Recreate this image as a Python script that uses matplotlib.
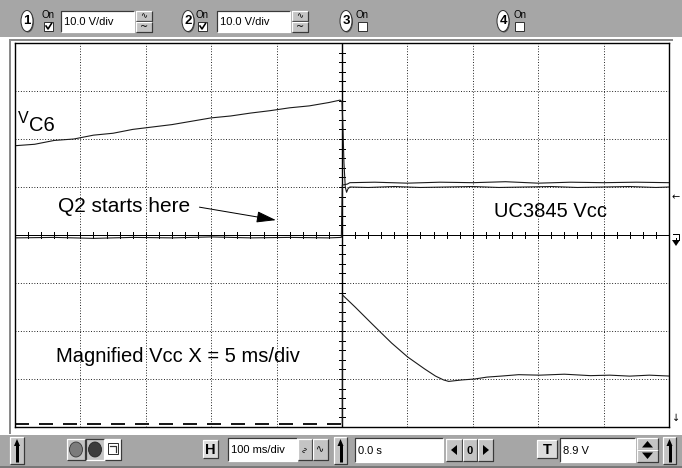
import numpy as np
import matplotlib
matplotlib.use("Agg")
import matplotlib.pyplot as plt
from matplotlib import font_manager
from matplotlib.patches import Rectangle, Ellipse, Polygon

# ---- trace data (time in ms, 100 ms/div; volts, 10 V/div, 0 V = screen centre)
vc6_t = [-500, -470, -440, -410, -380, -350, -320, -290, -260, -230, -200,
         -170, -140, -110, -80, -50, -20, -3, 0, 1.5, 3, 5, 7, 9, 12,
         40, 80, 120, 160, 200, 240, 280, 320, 360, 400, 440, 480, 500]
vc6_v = [18.6, 18.9, 19.7, 20.0, 20.8, 21.2, 22.0, 22.5, 23.0, 23.7, 24.4,
         24.8, 25.4, 25.9, 26.5, 26.9, 27.6, 28.1, 27.8, 22.0, 15.0, 10.0, 8.9, 9.6, 10.0,
         9.9, 10.1, 9.9, 10.0, 10.1, 9.9, 10.0, 10.1, 9.9, 10.0, 10.1, 9.9, 10.0]

vcc_t = [-500, -440, -380, -320, -260, -200, -140, -80, -20, -1,
         0.5, 8, 12, 50, 100, 150, 200, 250, 300, 350, 400, 450, 500]
vcc_v = [-0.6, -0.5, -0.7, -0.5, -0.6, -0.4, -0.6, -0.5, -0.6, -0.5,
         10.4, 10.6, 10.9, 11.0, 10.8, 11.0, 10.9, 11.1, 10.8, 11.0, 10.9, 11.0, 10.9]

# magnified Vcc (drawn on the same screen)
mag_pre_t = [-500, -1]
mag_pre_v = [-39.4, -39.4]
mag_t = [0.5, 0.8, 20, 43.6, 60, 75.8, 100.3, 126.3, 143.1, 155.4, 163.1,
         183, 202.9, 222, 242.7, 270, 302.5, 340, 380, 409.6, 440, 470, 503]
mag_v = [-39.4, -12.5, -15.0, -18.2, -20.4, -22.5, -25.4, -27.9, -29.4, -30.2, -30.5,
         -30.2, -30.0, -29.6, -29.4, -29.1, -29.2, -29.0, -29.3, -29.2, -29.4, -29.2, -29.4]

names = {f.name for f in font_manager.fontManager.ttflist}
ui_font = "Liberation Sans Narrow" if "Liberation Sans Narrow" in names else "Liberation Sans"
txt_font = "Liberation Sans"

GREY = "#a6a6a6"
BTN = "#c4c4c4"
PX = 0.72  # 1 px in points at 100 dpi

fig = plt.figure(figsize=(6.82, 4.68), dpi=100)
fig.patch.set_facecolor("white")

ui = fig.add_axes([0, 0, 1, 1], zorder=0)
ui.set_xlim(0, 682)
ui.set_ylim(468, 0)
ui.axis("off")


def bevel(x0, y0, x1, y1, face=BTN, raised=True):
    ui.add_patch(Rectangle((x0, y0), x1 - x0, y1 - y0, facecolor=face, edgecolor="none"))
    light, dark = ("white", "#3a3a3a") if raised else ("#3a3a3a", "white")
    ui.plot([x0, x0, x1], [y1, y0, y0], color=light, lw=1.2 * PX, solid_capstyle="butt")
    ui.plot([x0, x1, x1], [y1, y1, y0], color=dark, lw=1.2 * PX, solid_capstyle="butt")


def field(x0, y0, x1, y1, label):
    bevel(x0, y0, x1, y1, face="white", raised=False)
    ui.text(x0 + 3, (y0 + y1) / 2 + 0.5, label, family=ui_font, fontsize=8,
            ha="left", va="center", color="black")


def badge(cx, num):
    ui.add_patch(Ellipse((cx + 1, 22), 12, 21, facecolor="#555555", edgecolor="none"))
    ui.add_patch(Ellipse((cx, 21), 12, 21, facecolor="white", edgecolor="#333333", lw=1.0 * PX))
    ui.text(cx, 21.5, num, family=ui_font, fontsize=9.5, fontweight="bold",
            ha="center", va="center")


def checkbox(x, checked):
    ui.text(x + 4.5, 15.5, "On", family=ui_font, fontsize=7, ha="center", va="center")
    ui.add_patch(Rectangle((x, 22), 9, 9, facecolor="white", edgecolor="#333333", lw=1.0 * PX))
    if checked:
        ui.plot([x + 2, x + 4, x + 7.5], [26, 29, 23.5], color="black", lw=1.6 * PX)


def wave_buttons(x0, x1):
    bevel(x0, 11, x1, 21)
    bevel(x0, 22, x1, 32)
    ui.text((x0 + x1) / 2, 16, "\u223f", family=["DejaVu Sans"], fontsize=6, ha="center", va="center")
    ui.text((x0 + x1) / 2, 27, "~", family=["DejaVu Sans"], fontsize=7, ha="center", va="center")


def up_arrow(x, y0, y1):
    ui.plot([x, x], [y1, y0 + 6], color="black", lw=3.0 * PX, solid_capstyle="butt")
    ui.add_patch(Polygon([[x - 3, y0 + 7], [x + 3, y0 + 7], [x, y0]], closed=True,
                         facecolor="black", edgecolor="none"))


# ---- top toolbar
ui.add_patch(Rectangle((0, 0), 682, 37, facecolor=GREY, edgecolor="none"))
badge(27, "1")
checkbox(44, True)
field(61, 11, 134, 32, "10.0 V/div")
wave_buttons(136, 152)
badge(188, "2")
checkbox(198, True)
field(217, 11, 290, 32, "10.0 V/div")
wave_buttons(292, 308)
badge(346, "3")
checkbox(358, False)
badge(503, "4")
checkbox(515, False)

# ---- bottom toolbar
ui.add_patch(Rectangle((0, 435), 682, 33, facecolor=GREY, edgecolor="none"))
ui.plot([0, 682], [466.5, 466.5], color="#6a6a6a", lw=1.5 * PX)
bevel(10, 437, 24, 464)
up_arrow(17, 439, 462)
bevel(67, 439, 85, 460)
ui.add_patch(Ellipse((76, 449.5), 13, 15, facecolor="#7c7c7c", edgecolor="#333333", lw=0.8 * PX))
bevel(86, 439, 104, 460, raised=False)
ui.add_patch(Ellipse((95, 449.5), 13, 15, facecolor="#3c3c3c", edgecolor="#222222", lw=0.8 * PX))
bevel(105, 439, 121, 460, face="white")
ui.add_patch(Rectangle((108, 443), 10, 11, facecolor="white", edgecolor="#333333", lw=1.0 * PX))
ui.plot([110, 116, 116], [446, 446, 452], color="#333333", lw=1.2 * PX)

bevel(203, 440, 218, 458, face="#dcdcdc")
ui.text(210.5, 449.5, "H", family=ui_font, fontsize=10.5, fontweight="bold", ha="center", va="center")
field(228, 438, 297, 461, "100 ms/div")
bevel(298, 439, 312, 460)
ui.text(305, 449.5, "\u223f", family=["DejaVu Sans"], fontsize=6, ha="center", va="center", rotation=90)
bevel(313, 439, 328, 460)
ui.text(320.5, 449.5, "\u223f", family=["DejaVu Sans"], fontsize=7, ha="center", va="center")
bevel(334, 437, 347, 464)
up_arrow(340.5, 439, 462)
field(355, 438, 443, 462, "0.0 s")
bevel(446, 439, 462, 461)
ui.add_patch(Polygon([[451, 450], [457, 445], [457, 455]], closed=True, facecolor="black"))
bevel(463, 439, 477, 461)
ui.text(470, 450.5, "0", family=ui_font, fontsize=8, fontweight="bold", ha="center", va="center")
bevel(478, 439, 493, 461)
ui.add_patch(Polygon([[489, 450], [483, 445], [483, 455]], closed=True, facecolor="black"))

bevel(537, 440, 557, 458, face="#dcdcdc")
ui.text(547, 449.5, "T", family=ui_font, fontsize=10.5, fontweight="bold", ha="center", va="center")
field(560, 438, 635, 462, "8.9 V")
bevel(637, 438, 658, 450)
bevel(637, 450, 658, 462)
ui.add_patch(Polygon([[647.5, 441], [642, 447.5], [653, 447.5]], closed=True, facecolor="black"))
ui.add_patch(Polygon([[647.5, 459], [642, 452.5], [653, 452.5]], closed=True, facecolor="black"))
bevel(663, 437, 676, 464)
up_arrow(669.5, 439, 462)

# ---- screen frame and right-side markers
ui.plot([10, 10], [40, 433], color="#8a8a8a", lw=2.0 * PX)
ui.plot([10, 672], [40, 40], color="#8a8a8a", lw=2.0 * PX)
ui.text(676, 197, "\u2190", family=["DejaVu Sans"], fontsize=7, ha="center", va="center")
ui.plot([673, 679, 679, 673], [234, 234, 240, 240], color="black", lw=1.0 * PX)
ui.add_patch(Polygon([[672, 240], [680, 240], [676, 246]], closed=True, facecolor="black"))
ui.plot([676, 676], [238, 243], color="black", lw=1.0 * PX)
ui.text(676, 418, "\u2193", family=["DejaVu Sans"], fontsize=7, ha="center", va="center")

# ---- scope screen
left, right, top, bottom = 15, 669, 43, 427
ax = fig.add_axes([left / 682, 1 - bottom / 468, (right - left) / 682, (bottom - top) / 468], zorder=1)
ax.set_facecolor("white")
ax.set_xlim(-500, 500)
ax.set_ylim(-40, 40)
ax.set_xticks(np.arange(-500, 501, 100))
ax.set_yticks(np.arange(-40, 41, 10))
ax.tick_params(length=0, labelbottom=False, labelleft=False)
ax.grid(True, color="black", linestyle=(0, (1, 2)), lw=0.9 * PX)
for s in ax.spines.values():
    s.set_color("black")
    s.set_linewidth(1.4 * PX)

# centre graticule with minor ticks
ax.axhline(0, color="black", lw=1.0 * PX)
ax.axvline(0, color="black", lw=1.4 * PX)
for t in np.arange(-480, 500, 20):
    ax.plot([t, t], [-0.7, 0.7], color="black", lw=1.0 * PX)
for v in np.arange(-38, 40, 2):
    ax.plot([-4.5, 4.5], [v, v], color="black", lw=1.0 * PX)

trace = dict(color="#1a1a1a", lw=1.1 * PX)
ax.plot(vc6_t, vc6_v, **trace)
ax.plot(vcc_t, vcc_v, **trace)
ax.plot(mag_pre_t, mag_pre_v, color="#1a1a1a", lw=2.0 * PX, linestyle=(0, (7, 5)))
ax.plot(mag_t, mag_v, **trace)

ax.text(-495, 23.3, "V", family=txt_font, fontsize=11.5, ha="left", va="baseline")
ax.text(-479, 21.7, "C6", family=txt_font, fontsize=14.5, ha="left", va="baseline")
ax.text(-434, 4.8, "Q2 starts here", family=txt_font, fontsize=15, ha="left", va="baseline")
ax.annotate("", xy=(-101, 3.1), xytext=(-218, 5.8),
            arrowprops=dict(arrowstyle="-|>,head_length=1.2,head_width=0.35", color="black",
                            lw=1.0 * PX, shrinkA=0, shrinkB=0))
ax.text(232, 3.75, "UC3845 Vcc", family=txt_font, fontsize=14.5, ha="left", va="baseline")
ax.text(-437, -26.5, "Magnified Vcc X = 5 ms/div", family=txt_font, fontsize=14.5,
        ha="left", va="baseline")

fig.savefig("out.png", dpi=100)
